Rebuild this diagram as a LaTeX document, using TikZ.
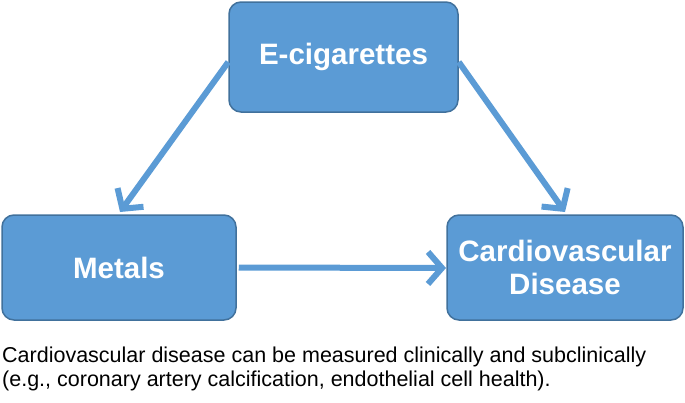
\documentclass[tikz,border=0pt]{standalone}
\usepackage{fontspec}
\setmainfont{Liberation Sans}
\usetikzlibrary{arrows.meta}
\definecolor{boxfill}{HTML}{5B9BD5}
\definecolor{boxline}{HTML}{41719C}
\tikzset{
  box/.style={draw=boxline, line width=1.5pt, fill=boxfill, rounded corners=12pt, text=white, font=\fontsize{29.5}{33}\selectfont\bfseries, align=center, inner sep=0pt},
  conn/.style={draw=boxfill, line width=6pt, -{Straight Barb[length=14pt,width=32pt,line width=6pt]}}
}
\begin{document}
\begin{tikzpicture}[x=1pt,y=-1pt]
\useasboundingbox (0,0) rectangle (685,402);
\node[box, minimum width=229pt, minimum height=110pt] (ec) at (343.5,57) {E-cigarettes};
\node[box, minimum width=234pt, minimum height=105pt] (me) at (119,267.5) {Metals};
\node[box, minimum width=236pt, minimum height=105pt] (cv) at (565,267.5) {Cardiovascular\\Disease};
\draw[conn] (ec.west) ++(0,5) -- (120,212);
\draw[conn] (ec.east) ++(0,5) -- (565,212);
\draw[conn] (me.east) ++(2,0) -- (446,268);
\node[anchor=north west, align=left, font=\fontsize{21.5}{24}\selectfont, inner sep=0pt] (cap) at (2,347) {Cardiovascular disease can be measured clinically and subclinically\\(e.g., coronary artery calcification, endothelial cell health).};
\end{tikzpicture}
\end{document}
